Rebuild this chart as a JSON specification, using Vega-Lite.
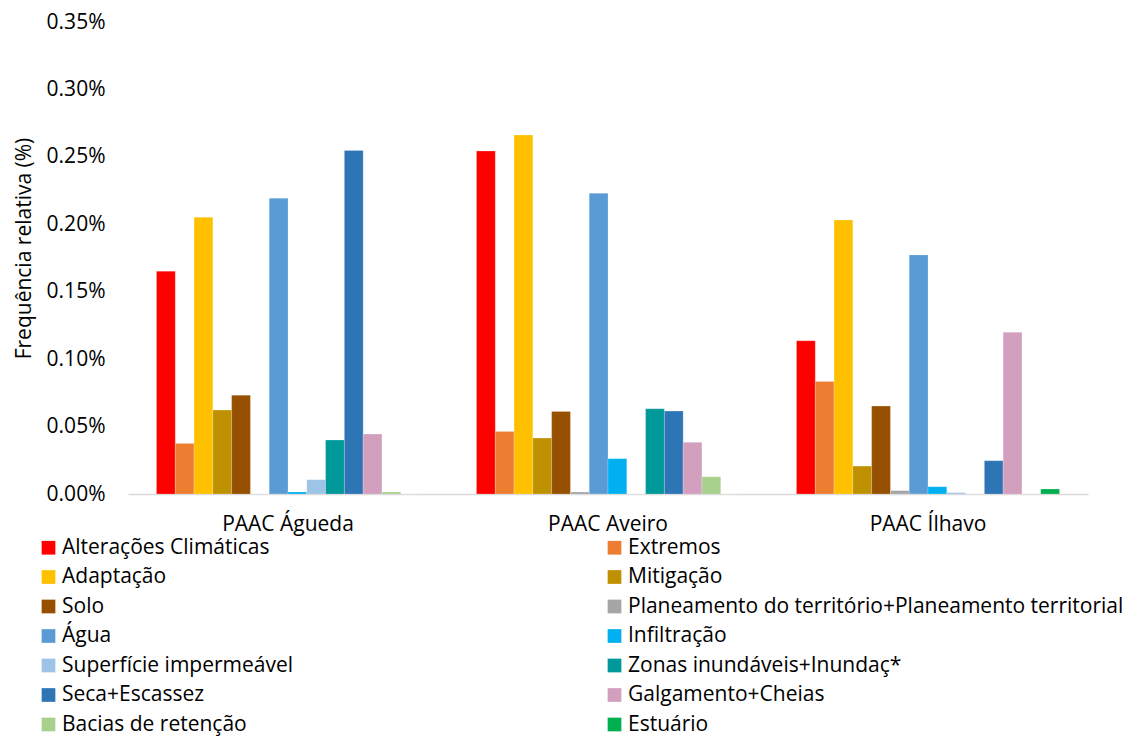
{
  "$schema": "https://vega.github.io/schema/vega-lite/v6.json",
  "width": 960,
  "height": 472,
  "autosize": {"type": "none"},
  "padding": {"left": 128, "top": 22, "right": 41, "bottom": 243},
  "background": "white",
  "config": {
    "view": {"stroke": null},
    "font": "Open Sans",
    "axis": {"labelFont": "Open Sans", "titleFont": "Open Sans", "labelColor": "#000000", "titleColor": "#000000"},
    "legend": {"labelFont": "Open Sans", "labelColor": "#000000"}
  },
  "datasets": {
    "freq": [
      {"plano": "PAAC Águeda", "tema": "Alterações Climáticas", "ordem": 1, "valor": 0.1652},
      {"plano": "PAAC Águeda", "tema": "Extremos", "ordem": 2, "valor": 0.0375},
      {"plano": "PAAC Águeda", "tema": "Adaptação", "ordem": 3, "valor": 0.2052},
      {"plano": "PAAC Águeda", "tema": "Mitigação", "ordem": 4, "valor": 0.0622},
      {"plano": "PAAC Águeda", "tema": "Solo", "ordem": 5, "valor": 0.0733},
      {"plano": "PAAC Águeda", "tema": "Planeamento do território+Planeamento territorial", "ordem": 6, "valor": 0},
      {"plano": "PAAC Águeda", "tema": "Água", "ordem": 7, "valor": 0.2193},
      {"plano": "PAAC Águeda", "tema": "Infiltração", "ordem": 8, "valor": 0.0015},
      {"plano": "PAAC Águeda", "tema": "Superfície impermeável", "ordem": 9, "valor": 0.0106},
      {"plano": "PAAC Águeda", "tema": "Zonas inundáveis+Inundaç*", "ordem": 10, "valor": 0.0400},
      {"plano": "PAAC Águeda", "tema": "Seca+Escassez", "ordem": 11, "valor": 0.2548},
      {"plano": "PAAC Águeda", "tema": "Galgamento+Cheias", "ordem": 12, "valor": 0.0444},
      {"plano": "PAAC Águeda", "tema": "Bacias de retenção", "ordem": 13, "valor": 0.0015},
      {"plano": "PAAC Águeda", "tema": "Estuário", "ordem": 14, "valor": 0},

      {"plano": "PAAC Aveiro", "tema": "Alterações Climáticas", "ordem": 1, "valor": 0.2543},
      {"plano": "PAAC Aveiro", "tema": "Extremos", "ordem": 2, "valor": 0.0464},
      {"plano": "PAAC Aveiro", "tema": "Adaptação", "ordem": 3, "valor": 0.2662},
      {"plano": "PAAC Aveiro", "tema": "Mitigação", "ordem": 4, "valor": 0.0415},
      {"plano": "PAAC Aveiro", "tema": "Solo", "ordem": 5, "valor": 0.0612},
      {"plano": "PAAC Aveiro", "tema": "Planeamento do território+Planeamento territorial", "ordem": 6, "valor": 0.0015},
      {"plano": "PAAC Aveiro", "tema": "Água", "ordem": 7, "valor": 0.2230},
      {"plano": "PAAC Aveiro", "tema": "Infiltração", "ordem": 8, "valor": 0.0262},
      {"plano": "PAAC Aveiro", "tema": "Superfície impermeável", "ordem": 9, "valor": 0},
      {"plano": "PAAC Aveiro", "tema": "Zonas inundáveis+Inundaç*", "ordem": 10, "valor": 0.0632},
      {"plano": "PAAC Aveiro", "tema": "Seca+Escassez", "ordem": 11, "valor": 0.0615},
      {"plano": "PAAC Aveiro", "tema": "Galgamento+Cheias", "ordem": 12, "valor": 0.0383},
      {"plano": "PAAC Aveiro", "tema": "Bacias de retenção", "ordem": 13, "valor": 0.0128},
      {"plano": "PAAC Aveiro", "tema": "Estuário", "ordem": 14, "valor": 0},

      {"plano": "PAAC Ílhavo", "tema": "Alterações Climáticas", "ordem": 1, "valor": 0.1136},
      {"plano": "PAAC Ílhavo", "tema": "Extremos", "ordem": 2, "valor": 0.0835},
      {"plano": "PAAC Ílhavo", "tema": "Adaptação", "ordem": 3, "valor": 0.2032},
      {"plano": "PAAC Ílhavo", "tema": "Mitigação", "ordem": 4, "valor": 0.0207},
      {"plano": "PAAC Ílhavo", "tema": "Solo", "ordem": 5, "valor": 0.0652},
      {"plano": "PAAC Ílhavo", "tema": "Planeamento do território+Planeamento territorial", "ordem": 6, "valor": 0.0025},
      {"plano": "PAAC Ílhavo", "tema": "Água", "ordem": 7, "valor": 0.1773},
      {"plano": "PAAC Ílhavo", "tema": "Infiltração", "ordem": 8, "valor": 0.0054},
      {"plano": "PAAC Ílhavo", "tema": "Superfície impermeável", "ordem": 9, "valor": 0.0010},
      {"plano": "PAAC Ílhavo", "tema": "Zonas inundáveis+Inundaç*", "ordem": 10, "valor": 0},
      {"plano": "PAAC Ílhavo", "tema": "Seca+Escassez", "ordem": 11, "valor": 0.0247},
      {"plano": "PAAC Ílhavo", "tema": "Galgamento+Cheias", "ordem": 12, "valor": 0.1200},
      {"plano": "PAAC Ílhavo", "tema": "Bacias de retenção", "ordem": 13, "valor": 0},
      {"plano": "PAAC Ílhavo", "tema": "Estuário", "ordem": 14, "valor": 0.0037}
    ]
  },
  "data": {"name": "freq"},
  "mark": {"type": "bar", "stroke": "#ffffff", "strokeOpacity": 0.35, "strokeWidth": 0.6},
  "encoding": {
    "x": {
      "field": "plano",
      "type": "nominal",
      "sort": ["PAAC Águeda", "PAAC Aveiro", "PAAC Ílhavo"],
      "scale": {"paddingInner": 0.178, "paddingOuter": 0.089},
      "axis": {
        "title": null,
        "labelAngle": 0,
        "labelFontSize": 21,
        "labelPadding": 19,
        "ticks": false,
        "tickSize": 0,
        "domainColor": "#D9D9D9",
        "domainWidth": 1.5
      }
    },
    "xOffset": {
      "field": "tema",
      "type": "nominal",
      "sort": {"field": "ordem"},
      "scale": {"paddingInner": 0, "paddingOuter": 0}
    },
    "y": {
      "field": "valor",
      "type": "quantitative",
      "scale": {"domain": [0, 0.35], "nice": false},
      "axis": {
        "title": "Frequência relativa (%)",
        "titleFontSize": 21,
        "titleFontWeight": "normal",
        "titleX": -104,
        "titleY": 226,
        "titleAngle": -90,
        "titleAlign": "center",
        "titleBaseline": "middle",
        "values": [0, 0.05, 0.1, 0.15, 0.2, 0.25, 0.3, 0.35],
        "labelExpr": "format(datum.value, '.2f') + '%'",
        "labelFontSize": 21,
        "labelPadding": 23,
        "ticks": false,
        "tickSize": 0,
        "domain": false,
        "grid": false
      }
    },
    "color": {
      "field": "tema",
      "type": "nominal",
      "sort": {"field": "ordem"},
      "scale": {
        "domain": [
          "Alterações Climáticas", "Extremos", "Adaptação", "Mitigação", "Solo",
          "Planeamento do território+Planeamento territorial", "Água", "Infiltração",
          "Superfície impermeável", "Zonas inundáveis+Inundaç*", "Seca+Escassez",
          "Galgamento+Cheias", "Bacias de retenção", "Estuário"
        ],
        "range": [
          "#FF0000", "#ED7D31", "#FFC000", "#BF9000", "#975000",
          "#A5A5A5", "#5B9BD5", "#00B0F0",
          "#9DC3E6", "#009999", "#2E75B6",
          "#D29FBF", "#A9D18E", "#00B050"
        ]
      },
      "legend": {
        "title": null,
        "orient": "none",
        "legendX": -90,
        "legendY": 515,
        "direction": "horizontal",
        "columns": 2,
        "gridAlign": "each",
        "columnPadding": 310,
        "rowPadding": 7.5,
        "padding": 0,
        "symbolType": "square",
        "symbolSize": 188,
        "symbolStrokeWidth": 0,
        "labelFontSize": 21,
        "labelOffset": 3,
        "labelLimit": 0
      }
    }
  }
}
